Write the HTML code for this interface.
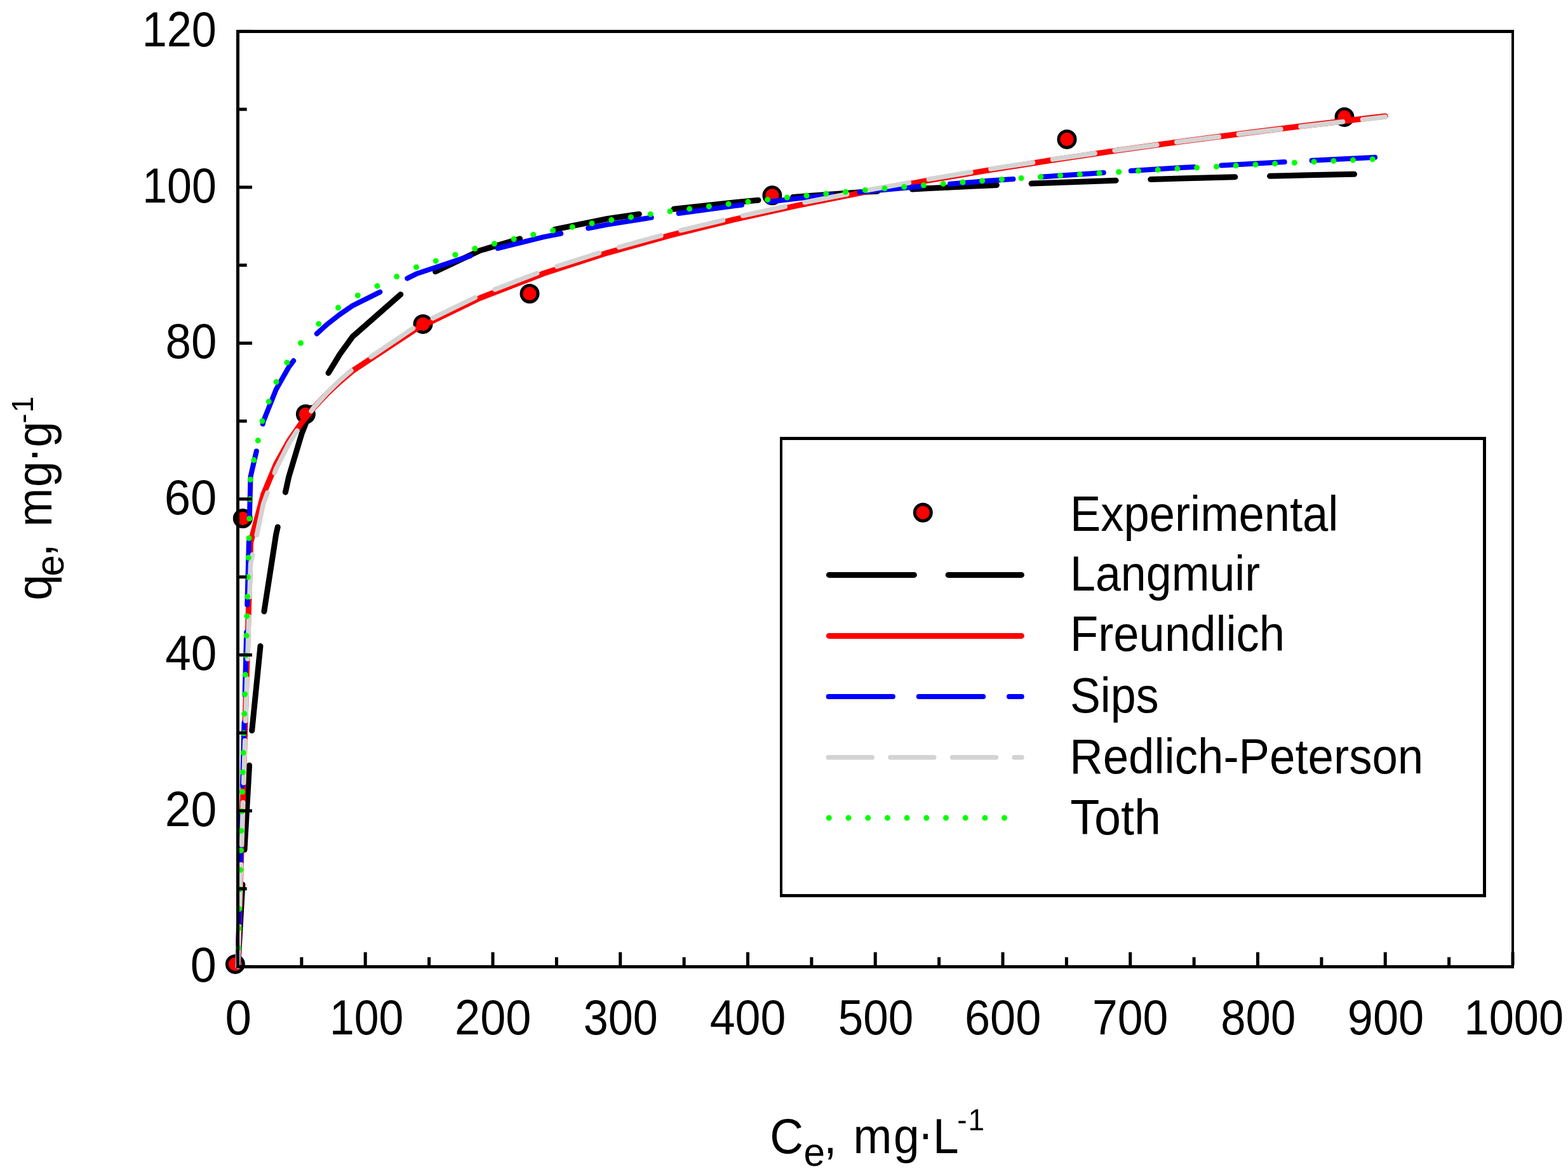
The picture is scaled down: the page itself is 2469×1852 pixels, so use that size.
<!DOCTYPE html><html><head><meta charset="utf-8"><title>Adsorption isotherms</title><style>html,body{margin:0;padding:0;background:#fff;overflow:hidden;}svg{display:block;}</style></head><body>
<svg width="2469" height="1852" viewBox="0 0 2469 1852" font-family="'Liberation Sans', Arial, sans-serif">
<rect x="0" y="0" width="2469" height="1852" fill="#fff"/>
<g fill="#ff0000" stroke="#000" stroke-width="4.9">
<circle cx="370.40" cy="1518.40" r="13.05"/>
<circle cx="382.30" cy="816.50" r="13.05"/>
<circle cx="481.40" cy="652.30" r="13.05"/>
<circle cx="666.00" cy="510.40" r="13.05"/>
<circle cx="834.00" cy="462.45" r="13.05"/>
<circle cx="1215.95" cy="307.85" r="13.05"/>
<circle cx="1680.00" cy="219.40" r="13.05"/>
<circle cx="2117.00" cy="184.40" r="13.05"/>
</g>
<g fill="none" stroke-linecap="round" stroke-linejoin="round">
<path d="M374.5 1522.4 L381.9 1393.0M385.0 1338.3 L392.6 1205.3M396.7 1150.6 L410.0 1017.6M415.9 962.9 L434.7 841.5 L437.3 829.9M449.4 775.2 L454.8 750.7 L474.9 683.6 L491.0 642.2M517.1 587.5 L535.1 557.8 L555.2 530.2 L630.9 463.7M685.6 427.8 L755.9 394.5 L818.6 376.0M873.3 361.4 L956.7 344.5 L1006.3 337.2M1061.0 329.3 L1157.4 318.6 L1194.0 315.3M1248.7 310.5 L1257.8 309.7 L1358.2 302.6 L1381.7 301.2M1436.4 298.1 L1458.5 296.8 L1558.9 291.9 L1569.4 291.4M1624.1 289.1 L1659.3 287.7 L1757.1 284.2M1811.8 282.5 L1860.0 281.0 L1944.8 278.7M1999.5 277.3 L2060.8 275.8 L2132.5 274.3" stroke="#000000" stroke-width="9"/>
<path d="M374.50 1522.40 L394.57 854.28 L414.65 778.72 L434.73 730.62 L454.80 694.62 L474.88 665.57 L494.95 641.08 L515.02 619.83 L535.10 601.01 L555.17 584.08 L655.55 517.75 L755.92 469.20 L856.30 430.47 L956.67 398.06 L1057.05 370.07 L1157.42 345.37 L1257.80 323.22 L1358.17 303.10 L1458.55 284.65 L1558.92 267.59 L1659.30 251.71 L1759.67 236.85 L1860.05 222.88 L1960.42 209.68 L2060.80 197.16 L2161.18 185.27 L2181.25 182.96" stroke="#ff0000" stroke-width="9"/>
<path d="M374.5 1522.2 L377.1 1422.7M378.2 1379.7 L380.8 1280.2M381.9 1237.3 L384.5 1137.8M385.6 1094.9 L388.2 995.4M389.3 952.5 L391.9 853.0M393.0 810.0 L394.6 750.4 L403.8 710.5M413.8 667.6 L414.6 663.8 L434.7 613.4 L454.8 578.1 L462.2 568.1M498.9 525.5 L515.0 510.8 L535.1 495.1 L555.2 481.4 L598.4 459.8M641.3 438.4 L655.5 431.3 L740.8 402.9M783.7 391.0 L856.3 373.1 L883.2 367.9M926.2 359.5 L956.7 353.6 L1025.7 342.6M1068.6 336.0 L1157.4 324.0 L1168.1 322.7M1211.0 317.7 L1257.8 312.3 L1310.5 306.9M1353.5 302.5 L1358.2 302.0 L1453.0 293.3M1495.9 289.8 L1558.9 284.6 L1595.4 281.9M1638.3 278.7 L1659.3 277.2 L1737.8 271.9M1780.8 269.1 L1860.0 264.1 L1880.3 263.0M1923.2 260.5 L1960.4 258.4 L2022.7 255.0M2065.6 252.8 L2161.2 248.0 L2165.1 247.8" stroke="#0000ff" stroke-width="8"/>
<path d="M374.5 1522.4 L376.5 1459.1M377.5 1428.0 L379.6 1361.5M380.6 1330.4 L382.7 1263.9M383.7 1232.8 L385.8 1166.3M386.7 1135.2 L388.9 1068.7M389.8 1037.6 L391.9 971.1M392.9 940.0 L394.6 887.8 L397.6 873.5M404.3 842.4 L414.6 793.7 L421.1 775.9M432.4 744.8 L434.7 738.4 L454.8 698.5 L467.7 678.3M490.1 647.2 L494.9 640.9 L515.0 618.5 L535.1 598.9 L552.9 583.4M584.0 562.0 L650.5 517.1M681.6 501.0 L748.1 468.7M779.2 455.9 L845.7 430.3M876.8 419.7 L943.3 398.4M974.4 389.3 L1040.9 371.0M1072.0 362.9 L1138.5 346.9M1169.6 339.7 L1236.1 325.3M1267.2 318.7 L1333.7 305.7M1364.8 299.7 L1431.3 287.8M1462.4 282.3 L1528.9 271.2M1560.0 266.1 L1626.5 255.9M1657.6 251.1 L1659.3 250.8 L1724.1 241.5M1755.2 237.0 L1759.7 236.4 L1821.7 228.0M1852.8 223.8 L1860.0 222.8 L1919.3 215.3M1950.4 211.3 L1960.4 210.0 L2016.9 203.2M2048.0 199.4 L2060.8 197.9 L2114.5 191.7M2145.6 188.2 L2161.2 186.4 L2181.2 184.1" stroke="#d3d3d3" stroke-width="7.6"/>
<path d="M375.3 1492.8h0.01M376.1 1462.1h0.01M376.9 1431.4h0.01M377.7 1400.6h0.01M378.5 1369.9h0.01M379.3 1339.2h0.01M380.1 1308.4h0.01M380.9 1277.7h0.01M381.6 1247.0h0.01M382.4 1216.2h0.01M383.2 1185.5h0.01M384.0 1154.8h0.01M384.8 1124.1h0.01M385.6 1093.3h0.01M386.4 1062.6h0.01M387.2 1031.9h0.01M388.0 1001.1h0.01M388.8 970.4h0.01M389.6 939.7h0.01M390.4 908.9h0.01M391.2 878.2h0.01M392.0 847.5h0.01M392.8 816.8h0.01M393.6 786.0h0.01M394.4 755.3h0.01M399.8 724.6h0.01M406.3 693.8h0.01M412.9 663.1h0.01M423.2 632.4h0.01M435.0 601.6h0.01M451.9 570.9h0.01M473.5 540.2h0.01M501.8 510.1h0.01M532.5 484.6h0.01M563.3 465.3h0.01M594.0 450.4h0.01M624.7 435.6h0.01M655.5 420.7h0.01M686.2 411.0h0.01M716.9 401.3h0.01M747.7 391.5h0.01M778.4 383.7h0.01M809.1 376.6h0.01M839.8 369.4h0.01M870.6 363.0h0.01M901.3 357.4h0.01M932.0 351.8h0.01M962.8 346.5h0.01M993.5 341.9h0.01M1024.2 337.3h0.01M1055.0 332.8h0.01M1085.7 328.9h0.01M1116.4 325.0h0.01M1147.1 321.2h0.01M1177.9 317.7h0.01M1208.6 314.4h0.01M1239.3 311.1h0.01M1270.1 308.0h0.01M1300.8 305.1h0.01M1331.5 302.2h0.01M1362.3 299.4h0.01M1393.0 296.8h0.01M1423.7 294.3h0.01M1454.4 291.7h0.01M1485.2 289.4h0.01M1515.9 287.1h0.01M1546.6 284.8h0.01M1577.4 282.6h0.01M1608.1 280.6h0.01M1638.8 278.5h0.01M1669.6 276.5h0.01M1700.3 274.6h0.01M1731.0 272.7h0.01M1761.7 270.8h0.01M1792.5 269.1h0.01M1823.2 267.4h0.01M1853.9 265.6h0.01M1884.7 264.0h0.01M1915.4 262.4h0.01M1946.1 260.8h0.01M1976.9 259.3h0.01M2007.6 257.8h0.01M2038.3 256.3h0.01M2069.0 254.8h0.01M2099.8 253.4h0.01M2130.5 252.1h0.01M2161.2 250.7h0.01" stroke="#00ff00" stroke-width="9"/>
</g>
<g fill="#000">
<rect x="372" y="47" width="5" height="1478"/>
<rect x="372" y="47" width="2012" height="5"/>
<rect x="2380" y="47" width="4" height="1478"/>
<rect x="372" y="1520" width="2012" height="5"/>
<rect x="377" y="1519.90" width="20.00" height="5"/>
<rect x="377" y="1397.15" width="11.70" height="5"/>
<rect x="377" y="1274.40" width="20.00" height="5"/>
<rect x="377" y="1151.65" width="11.70" height="5"/>
<rect x="377" y="1028.90" width="20.00" height="5"/>
<rect x="377" y="906.15" width="11.70" height="5"/>
<rect x="377" y="783.40" width="20.00" height="5"/>
<rect x="377" y="660.65" width="11.70" height="5"/>
<rect x="377" y="537.90" width="20.00" height="5"/>
<rect x="377" y="415.15" width="11.70" height="5"/>
<rect x="377" y="292.40" width="20.00" height="5"/>
<rect x="377" y="169.65" width="11.70" height="5"/>
<rect x="377" y="46.90" width="20.00" height="5"/>
<rect x="372.00" y="1499.50" width="5" height="20.50"/>
<rect x="472.38" y="1507.40" width="5" height="12.60"/>
<rect x="572.75" y="1499.50" width="5" height="20.50"/>
<rect x="673.12" y="1507.40" width="5" height="12.60"/>
<rect x="773.50" y="1499.50" width="5" height="20.50"/>
<rect x="873.88" y="1507.40" width="5" height="12.60"/>
<rect x="974.25" y="1499.50" width="5" height="20.50"/>
<rect x="1074.62" y="1507.40" width="5" height="12.60"/>
<rect x="1175.00" y="1499.50" width="5" height="20.50"/>
<rect x="1275.38" y="1507.40" width="5" height="12.60"/>
<rect x="1375.75" y="1499.50" width="5" height="20.50"/>
<rect x="1476.12" y="1507.40" width="5" height="12.60"/>
<rect x="1576.50" y="1499.50" width="5" height="20.50"/>
<rect x="1676.88" y="1507.40" width="5" height="12.60"/>
<rect x="1777.25" y="1499.50" width="5" height="20.50"/>
<rect x="1877.62" y="1507.40" width="5" height="12.60"/>
<rect x="1978.00" y="1499.50" width="5" height="20.50"/>
<rect x="2078.38" y="1507.40" width="5" height="12.60"/>
<rect x="2178.75" y="1499.50" width="5" height="20.50"/>
<rect x="2279.12" y="1507.40" width="5" height="12.60"/>
<rect x="2379.50" y="1499.50" width="5" height="20.50"/>
</g>
<g fill="#000">
<text transform="translate(299.85 1546.40) scale(0.9578 1)" font-size="77.00">0</text>
<text transform="translate(259.73 1300.90) scale(0.9524 1)" font-size="77.00">20</text>
<text transform="translate(260.14 1055.40) scale(0.9474 1)" font-size="77.00">40</text>
<text transform="translate(258.68 809.90) scale(0.9651 1)" font-size="77.00">60</text>
<text transform="translate(260.50 564.40) scale(0.9431 1)" font-size="77.00">80</text>
<text transform="translate(224.21 318.90) scale(0.9083 1)" font-size="77.00">100</text>
<text transform="translate(223.78 73.40) scale(0.9116 1)" font-size="77.00">120</text>
<text transform="translate(354.42 1629.00) scale(0.9686 1)" font-size="77.00">0</text>
<text transform="translate(518.92 1629.00) scale(0.9066 1)" font-size="77.00">100</text>
<text transform="translate(716.09 1629.00) scale(0.9370 1)" font-size="77.00">200</text>
<text transform="translate(918.80 1629.00) scale(0.9099 1)" font-size="77.00">300</text>
<text transform="translate(1117.67 1629.00) scale(0.9317 1)" font-size="77.00">400</text>
<text transform="translate(1319.76 1629.00) scale(0.9230 1)" font-size="77.00">500</text>
<text transform="translate(1519.00 1629.00) scale(0.9362 1)" font-size="77.00">600</text>
<text transform="translate(1719.92 1629.00) scale(0.9288 1)" font-size="77.00">700</text>
<text transform="translate(1922.27 1629.00) scale(0.9181 1)" font-size="77.00">800</text>
<text transform="translate(2121.79 1629.00) scale(0.9370 1)" font-size="77.00">900</text>
<text transform="translate(2305.57 1629.00) scale(0.9134 1)" font-size="77.00">1000</text>
</g>
<g fill="#000">
<rect x="1228" y="688" width="4" height="725"/>
<rect x="1228" y="688" width="1112" height="5"/>
<rect x="2335" y="688" width="5" height="725"/>
<rect x="1228" y="1408" width="1112" height="5"/>
</g>
<circle cx="1453.3" cy="807.3" r="13.05" fill="#ff0000" stroke="#000" stroke-width="4.9"/>
<g fill="none" stroke-linecap="round">
<path d="M1305.4 905.4 H1608.4" stroke="#000" stroke-width="9" stroke-dasharray="134 53.7"/>
<path d="M1305.4 1001.4 H1608.4" stroke="#ff0000" stroke-width="9"/>
<path d="M1304.6 1097 H1608.8" stroke="#0000ff" stroke-width="8" stroke-dasharray="101.3 40.9"/>
<path d="M1304.4 1192.7 H1609.0" stroke="#d3d3d3" stroke-width="7.6" stroke-dasharray="68.7 28.9"/>
<path d="M1305.3 1288.1 H1608.5" stroke="#00ff00" stroke-width="9" stroke-dasharray="0 30.7"/>
</g>
<g fill="#000">
<text transform="translate(1685.01 835.80) scale(0.9401 1)" font-size="77.00">Experimental</text>
<text transform="translate(1685.06 929.80) scale(0.9317 1)" font-size="77.00">Langmuir</text>
<text transform="translate(1685.01 1024.70) scale(0.9404 1)" font-size="77.00">Freundlich</text>
<text transform="translate(1685.01 1121.70) scale(0.9314 1)" font-size="77.00">Sips</text>
<text transform="translate(1684.29 1217.80) scale(0.9432 1)" font-size="77.00">Redlich-Peterson</text>
<text transform="translate(1685.29 1313.80) scale(0.9816 1)" font-size="77.00">Toth</text>
</g>
<text transform="scale(0.950 1)" fill="#000"><tspan x="1275.94" y="1816.40" font-size="77.00">C</tspan><tspan x="1331.99" y="1836.20" font-size="63.50">e</tspan><tspan x="1365.49" y="1816.40" font-size="77.00">,</tspan><tspan x="1414.29" y="1816.40" font-size="77.00">m</tspan><tspan x="1481.13" y="1816.40" font-size="77.00">g</tspan><tspan x="1521.29" y="1811.40" font-size="77.00">·</tspan><tspan x="1546.26" y="1816.40" font-size="77.00">L</tspan><tspan x="1586.59" y="1779.70" font-size="48.50">-</tspan><tspan x="1604.65" y="1779.70" font-size="48.50">1</tspan></text>
<text transform="rotate(-90) scale(0.950 1)" fill="#000"><tspan x="-995.40" y="81.40" font-size="77.00">q</tspan><tspan x="-955.28" y="100.50" font-size="63.50">e</tspan><tspan x="-922.72" y="81.40" font-size="77.00">,</tspan><tspan x="-873.07" y="81.40" font-size="77.00">m</tspan><tspan x="-807.29" y="81.40" font-size="77.00">g</tspan><tspan x="-767.13" y="76.40" font-size="77.00">·</tspan><tspan x="-741.71" y="81.40" font-size="77.00">g</tspan><tspan x="-701.83" y="51.90" font-size="48.50">-</tspan><tspan x="-683.88" y="51.90" font-size="48.50">1</tspan></text>
</svg></body></html>
